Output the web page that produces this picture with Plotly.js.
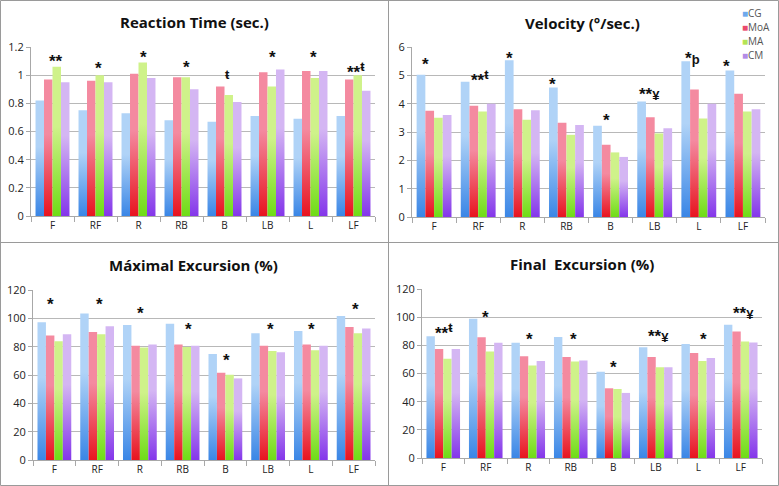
<!DOCTYPE html>
<html>
<head>
<meta charset="utf-8">
<script src="https://cdn.plot.ly/plotly-3.0.1.min.js"></script>
<style>
  html, body { margin: 0; padding: 0; background: #fff; }
  #chart { width: 779px; height: 486px; }
</style>
</head>
<body>
<div id="chart"></div>
<script>
var cats = ['F', 'RF', 'R', 'RB', 'B', 'LB', 'L', 'LF'];
var seriesNames = ['CG', 'MoA', 'MA', 'CM'];

// Reaction Time (sec.)
var rtCG  = [0.82, 0.75, 0.73, 0.68, 0.67, 0.71, 0.69, 0.71];
var rtMoA = [0.97, 0.96, 1.01, 0.985, 0.92, 1.02, 1.03, 0.97];
var rtMA  = [1.06, 1.00, 1.09, 0.985, 0.86, 0.92, 0.98, 1.00];
var rtCM  = [0.95, 0.95, 0.98, 0.90, 0.81, 1.04, 1.03, 0.89];
var rtMarks = ['**', '*', '*', '*', 'ŧ', '*', '*', '**<sup>ŧ</sup>'];
var rtMarkY = [1.13, 1.08, 1.16, 1.09, 1.04, 1.16, 1.16, 1.07];

// Velocity (°/sec.)
var velCG  = [5.02, 4.77, 5.53, 4.57, 3.22, 4.08, 5.50, 5.17];
var velMoA = [3.75, 3.93, 3.80, 3.33, 2.55, 3.52, 4.50, 4.35];
var velMA  = [3.50, 3.72, 3.43, 2.90, 2.28, 2.95, 3.48, 3.72];
var velCM  = [3.60, 4.00, 3.77, 3.25, 2.12, 3.13, 4.00, 3.80];
var velMarks = ['*', '**<sup>ŧ</sup>', '*', '*', '*', '**¥', '*þ', '*'];
var velMarkY = [5.57, 5.05, 5.78, 4.86, 3.6, 4.51, 5.78, 5.5];

// Máximal Excursion (%)
var maxCG  = [97.2, 103.5, 95.3, 96.2, 74.8, 89.4, 91.1, 101.6];
var maxMoA = [87.8, 90.4, 80.7, 81.6, 61.6, 80.7, 81.6, 93.9];
var maxMA  = [83.8, 88.7, 79.5, 79.8, 60.2, 76.9, 77.4, 89.4];
var maxCM  = [88.7, 94.4, 81.6, 80.7, 57.6, 76.0, 80.7, 92.9];
var maxMarks = ['*', '*', '*', '*', '*', '*', '*', '*'];
var maxMarkY = [113, 113, 106.6, 95.8, 74, 96, 96, 110];

// Final Excursion (%)
var finCG  = [86.4, 98.9, 81.9, 85.9, 61.3, 78.6, 80.9, 94.7];
var finMoA = [77.4, 85.7, 72.2, 71.7, 49.5, 71.7, 74.6, 89.9];
var finMA  = [70.5, 75.7, 65.6, 68.6, 49.0, 64.4, 68.9, 82.8];
var finCM  = [77.4, 81.9, 68.9, 69.3, 46.2, 64.4, 71.0, 82.1];
var finMarks = ['**<sup>ŧ</sup>', '*', '*', '*', '*', '**¥', '*', '**¥'];
var finMarkY = [93.5, 103, 88, 88, 67.5, 89.5, 88, 106.5];

// horizontal nudge (px) of each significance mark from its category centre
var rtShift  = [3, 3, 5, 5, 3, 5, 3, 2];
var velShift = [-9, 2, -13, -14, -4, -5, -6, -16];
var maxShift = [-4, 2, 1, 6, 1, 2, 1, 2];
var finShift = [1, 0, 1, 3, 0, 3, 5, 3];

var W = 779, H = 486;
function px(x) { return x / W; }
function py(y) { return 1 - y / H; }

var swatch = ['#6ea9ec', '#ea4a6c', '#b4e454', '#b38be6'];
var gradTop = ['#b0d3f7', '#f48aa0', '#cff28a', '#d4b6f3'];
var gradBot = ['#3a86e6', '#e8141f', '#6fdc16', '#8436ea'];

// the symbols next to the asterisks are set a little smaller
function fmtMark(m) {
  return m.replace(/[ŧþ¥]/g, function (c) {
    return '<span style="font-size:13px">' + c + '</span>';
  });
}

var panels = [
  {ax: '',  vals: [rtCG, rtMoA, rtMA, rtCM],     marks: rtMarks,  my: rtMarkY,  sh: rtShift},
  {ax: '2', vals: [velCG, velMoA, velMA, velCM], marks: velMarks, my: velMarkY, sh: velShift},
  {ax: '3', vals: [maxCG, maxMoA, maxMA, maxCM], marks: maxMarks, my: maxMarkY, sh: maxShift},
  {ax: '4', vals: [finCG, finMoA, finMA, finCM], marks: finMarks, my: finMarkY, sh: finShift}
];

var data = [];
var annotations = [];
panels.forEach(function (p) {
  p.vals.forEach(function (v, i) {
    data.push({
      type: 'bar',
      x: cats,
      y: v,
      name: seriesNames[i],
      xaxis: 'x' + p.ax,
      yaxis: 'y' + p.ax,
      marker: {color: swatch[i], line: {width: 0}},
      showlegend: false,
      hoverinfo: 'skip'
    });
  });
  p.marks.forEach(function (m, j) {
    annotations.push({
      xref: 'x' + p.ax, yref: 'y' + p.ax,
      x: cats[j], y: p.my[j],
      text: fmtMark(m), showarrow: false,
      xshift: p.sh[j], yshift: -5,
      font: {family: 'Liberation Sans, Arial, sans-serif', size: 17, color: '#111', weight: 'bold'}
    });
  });
});

var titleFont = {family: 'Open Sans, sans-serif', size: 15, color: '#111', weight: 'bold'};
var titles = [
  ['<b>Reaction Time (sec.)</b>', 194, 22],
  ['<b>Velocity (°/sec.)</b>', 582, 23],
  ['<b>Máximal Excursion (%)</b>', 193, 265],
  ['<b>Final\u00a0 Excursion (%)</b>', 582, 264]
];
titles.forEach(function (t) {
  annotations.push({
    xref: 'paper', yref: 'paper', x: px(t[1]), y: py(t[2]),
    xanchor: 'center', yanchor: 'middle', showarrow: false,
    text: t[0], font: titleFont
  });
});

// legend, top right of the velocity panel
var legendY = [13, 27, 41, 55];
seriesNames.forEach(function (n, i) {
  annotations.push({
    xref: 'paper', yref: 'paper', x: px(740), y: py(legendY[i]),
    xanchor: 'left', yanchor: 'middle', showarrow: false,
    text: '<span style="color:' + swatch[i] + '">■</span>' + n,
    font: {family: 'Open Sans, sans-serif', size: 10, color: '#555'}
  });
});

var gridColor = '#b8b8b8';
var lineColor = '#a8a8a8';
function xAxis(domain, anchor) {
  return {
    domain: domain, anchor: anchor, type: 'category',
    showgrid: false, showline: true, linecolor: lineColor, linewidth: 1,
    ticks: 'outside', tickson: 'boundaries', ticklen: 5, tickcolor: lineColor,
    tickfont: {family: 'Open Sans, sans-serif', size: 10, color: '#222'},
    fixedrange: true
  };
}
function yAxis(domain, anchor, range, dtick) {
  return {
    domain: domain, anchor: anchor, range: range, dtick: dtick,
    showgrid: true, gridcolor: gridColor, gridwidth: 1, zeroline: false,
    showline: true, linecolor: lineColor, ticks: 'outside', ticklen: 4, tickcolor: lineColor,
    tickfont: {family: 'Open Sans, sans-serif', size: 11, color: '#222'},
    fixedrange: true
  };
}

var layout = {
  width: W, height: H,
  margin: {l: 0, r: 0, t: 0, b: 0},
  paper_bgcolor: '#fff', plot_bgcolor: '#fff',
  barmode: 'group', bargap: 0.21, bargroupgap: 0,
  showlegend: false,
  xaxis:  xAxis([px(31), px(375)], 'y'),
  yaxis:  yAxis([py(216), py(47)], 'x', [0, 1.2], 0.2),
  xaxis2: xAxis([px(412), px(765)], 'y2'),
  yaxis2: yAxis([py(217), py(47)], 'x2', [0, 6], 1),
  xaxis3: xAxis([px(33), px(375)], 'y3'),
  yaxis3: yAxis([py(460), py(290)], 'x3', [0, 120], 20),
  xaxis4: xAxis([px(422), px(762)], 'y4'),
  yaxis4: yAxis([py(458), py(289)], 'x4', [0, 120], 20),
  annotations: annotations,
  shapes: [
    {type: 'rect', xref: 'paper', yref: 'paper', x0: px(0.5), x1: px(778.5), y0: py(485.5), y1: py(0.5),
     line: {color: '#9a9a9a', width: 1}},
    {type: 'line', xref: 'paper', yref: 'paper', x0: px(388.5), x1: px(388.5), y0: 0, y1: 1,
     line: {color: '#9a9a9a', width: 1}},
    {type: 'line', xref: 'paper', yref: 'paper', x0: 0, x1: 1, y0: py(242.5), y1: py(242.5),
     line: {color: '#9a9a9a', width: 1}}
  ]
};

function addGradients(gd) {
  var NS = 'http://www.w3.org/2000/svg';
  var svg = gd.querySelector('svg.main-svg');
  var defs = document.createElementNS(NS, 'defs');
  seriesNames.forEach(function (n, i) {
    var g = document.createElementNS(NS, 'linearGradient');
    g.setAttribute('id', 'barGrad' + i);
    g.setAttribute('x1', '0'); g.setAttribute('y1', '0');
    g.setAttribute('x2', '0'); g.setAttribute('y2', '1');
    [[0, gradTop[i]], [0.4, gradTop[i]], [1, gradBot[i]]].forEach(function (s) {
      var st = document.createElementNS(NS, 'stop');
      st.setAttribute('offset', s[0]);
      st.setAttribute('stop-color', s[1]);
      g.appendChild(st);
    });
    defs.appendChild(g);
  });
  svg.insertBefore(defs, svg.firstChild);
  gd.querySelectorAll('.barlayer').forEach(function (layer) {
    layer.querySelectorAll('.trace').forEach(function (tr, i) {
      tr.querySelectorAll('path').forEach(function (p) {
        p.style.fill = 'url(#barGrad' + (i % 4) + ')';
      });
    });
  });
}

Plotly.newPlot('chart', data, layout, {staticPlot: true, displayModeBar: false})
  .then(addGradients);
</script>
</body>
</html>
